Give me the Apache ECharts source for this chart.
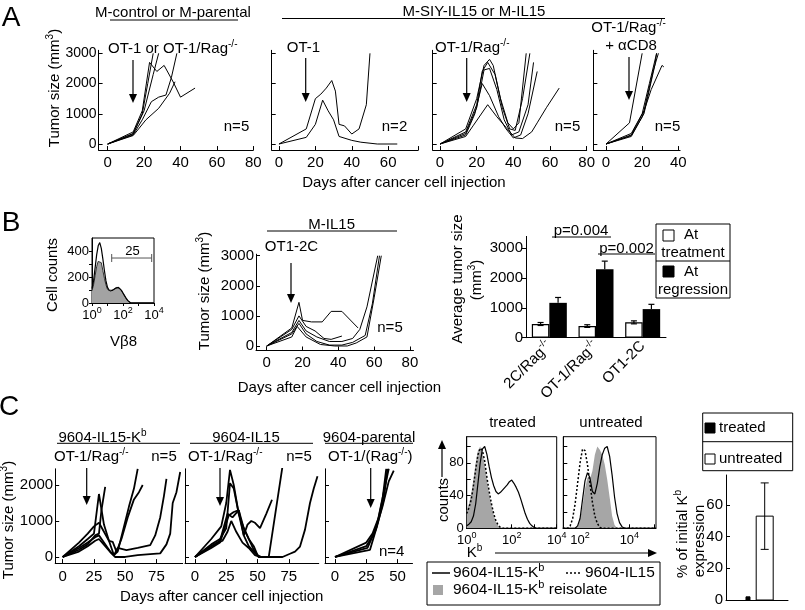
<!DOCTYPE html>
<html>
<head>
<meta charset="utf-8">
<script src="https://cdn.jsdelivr.net/npm/echarts@6/dist/echarts.min.js"></script>
<style>
html, body { margin: 0; padding: 0; background: #fff; }
#fig { width: 805px; height: 610px; }
</style>
</head>
<body>
<div id="fig"></div>
<script>
// ---- data ----
// A: tumor growth curves, [day, mm3]
var a1Lines = [
  [[0,0],[14,400],[19,1100],[23,2700],[27,2400],[31,2600],[36,2050],[40,1550],[48,1850]],
  [[0,0],[14,350],[19,1000],[22,2000],[25,3000]],
  [[0,0],[14,330],[20,1100],[25,2300],[28,3000]],
  [[0,0],[14,300],[19,800],[24,1400],[28,1550],[32,1620],[35,2200],[38,3000]],
  [[0,0],[14,280],[17,500],[21,800],[28,1180],[34,1680],[37,2060]]
];
var a2Lines = [
  [[0,0],[15,500],[20,1500],[23,1650],[26,1850],[29,2100],[31,1750],[33,650],[36,600],[40,330],[44,500],[48,1300],[50,3000]],
  [[0,0],[15,220],[20,650],[24,1450],[27,1100],[30,800],[33,250],[40,120],[45,60],[54,0],[65,0]]
];
var a3Lines = [
  [[0,0],[14,500],[20,1500],[24,2600],[27,2800],[29,2600],[33,1500],[37,700],[40,500],[43,700],[47,3000]],
  [[0,0],[14,400],[20,1300],[23,2400],[26,2700],[30,2300],[34,1200],[38,500],[41,450],[45,1500],[49,3000]],
  [[0,0],[14,350],[20,1200],[24,2450],[27,2500],[31,1800],[35,800],[39,300],[43,400],[48,1300],[51,2700]],
  [[0,0],[14,300],[19,1000],[23,2000],[27,1600],[32,900],[36,500],[40,200],[44,300],[48,1000],[53,2400]],
  [[0,0],[14,250],[18,600],[26,1300],[31,900],[36,550],[41,200],[45,180],[50,400],[53,700],[58,1200],[65,1850]]
];
var a4Lines = [
  [[0,0],[13,700],[20,3000]],
  [[0,0],[14,350],[20,1000],[24,2000],[28,3000]],
  [[0,0],[14,300],[21,1100],[26,2400],[29,3000]],
  [[0,0],[14,250],[20,900],[25,1800],[31,2600],[32,2550]],
  [[0,0],[14,280],[21,1000],[27,2600],[28,3000]]
];
// B: V-beta8 histogram (x in log10 units)
var bLog  = [0,0.1,0.2,0.3,0.4,0.5,0.6,0.7,0.8,0.9,1.0,1.1,1.2,1.3,1.4,1.5,1.6,1.7,1.8,1.9,2.0,2.1,2.2,2.3,2.4,2.5,2.6,4.0];
var bGray = [95,140,210,280,320,335,310,250,190,140,105,95,90,95,105,110,120,118,112,95,75,55,35,18,6,0,0,0];
var bOpen = [110,170,270,370,440,465,420,340,250,170,120,100,92,97,107,112,122,120,114,97,77,57,37,20,7,0,0,0];
var bGateX = [1.27, 3.85];
var bGateY = 346;
// B: M-IL15 growth curves
var bLines = [
  [[0,0],[14,600],[18,1450],[20,850],[25,800],[31,800],[36,1150],[42,1150],[51,600]],
  [[0,0],[14,550],[18,1000],[22,650],[27,500],[32,250],[36,220],[42,330]],
  [[0,0],[14,450],[18,850],[22,500],[28,300],[35,150],[42,150],[48,250],[52,550],[56,1300],[62,3000]],
  [[0,0],[14,400],[18,750],[22,400],[28,150],[35,30],[42,30],[48,120],[55,350],[59,1400],[63,3000]],
  [[0,0],[14,300],[17,650],[22,300],[30,50],[38,0],[45,0],[50,100],[56,300],[60,1600],[64,3000]]
];
// B: average tumor size bars
var bCats = ['2C/Rag-/-', 'OT-1/Rag-/-', 'OT1-2C'];
var bTreat = [460, 390, 515];
var bTreatErr = [50, 45, 50];
var bRegr = [1170, 2300, 960];
var bRegrErr = [180, 270, 160];
// C: growth curves
var c1Lines = [
  [[0,0],[13,300],[20,500],[25,650],[29,1750],[33,900],[37,450],[41,50],[44,150],[48,700],[53,1400],[57,1900],[60,2450]],
  [[0,0],[13,400],[20,650],[25,850],[29,950],[33,700],[37,450],[40,420],[43,150],[47,500],[52,1100],[57,1600],[61,1800],[64,2000]],
  [[0,0],[13,200],[20,350],[26,600],[29,650],[31,1300],[34,1950]],
  [[0,0],[13,250],[20,400],[26,550],[29,600],[33,400],[38,150],[41,50],[44,250],[51,190],[60,250],[70,330],[74,600],[78,1100],[81,1700],[83,2170]],
  [[0,0],[13,150],[20,300],[26,450],[29,500],[34,300],[39,100],[42,0],[50,0],[60,50],[70,80],[78,100],[83,350],[86,650],[88,1500],[91,1800],[94,2360]]
];
var c2Lines = [
  [[0,0],[13,500],[21,850],[25,1500],[28,2420],[31,2000],[35,1200],[39,600],[43,300],[47,150],[51,0],[59,0],[70,2520]],
  [[0,0],[13,350],[20,500],[25,800],[28,2050],[31,1900],[35,1200],[39,800],[43,500],[47,200],[51,0],[60,0],[67,0]],
  [[0,0],[13,300],[20,450],[26,1200],[30,1100],[35,1300],[39,600],[42,900],[45,1000],[48,950],[52,800],[57,1200],[61.6,1590]],
  [[0,0],[13,250],[20,400],[27,1150],[31,1250],[35,1300],[39,800],[43,500],[47,300],[50,50],[53,0]],
  [[0,0],[13,300],[22,450],[26,700],[29,1000],[33,700],[38,400],[43,250],[48,50],[52,0],[60,0],[70,0],[76,90],[80,150],[84,290],[88,760],[92,1500],[95,1900],[98,2240]]
];
var c3Lines = [
  [[0,0],[25,400],[30,650],[35,1100],[38,1600],[41,2450]],
  [[0,0],[25,300],[32,700],[38,1400],[43,2100],[47,2400]],
  [[0,0],[26,250],[33,800],[39,1800],[43,2450]],
  [[0,0],[28,200],[34,900],[39,1600],[42,2450]]
];
// C: Kb histograms (x in log10 units, counts in % of max)
var ctLog   = [0,0.1,0.2,0.3,0.4,0.5,0.6,0.7,0.8,0.9,1.0,1.1,1.2,1.3,1.4,1.5,1.6,1.7,1.8,1.9,2.0,2.1,2.2,2.3,2.4,2.5,2.6,2.7,2.8,2.9,3.0,3.1,3.2,4.0];
var ctGray  = [22,30,42,60,80,95,100,92,78,60,42,28,16,8,3,0,0,0,0,0,0,0,0,0,0,0,0,0,0,0,0,0,0,0];
var ctDot   = [18,25,35,52,72,90,98,95,82,62,45,30,18,9,4,1,0,0,0,0,0,0,0,0,0,0,0,0,0,0,0,0,0,0];
var ctSolid = [3,5,8,15,30,55,80,97,100,90,75,62,52,45,42,44,47,50,53,57,59,55,50,44,36,27,18,11,6,3,1,0,0,0];
var cuLog   = [1.3,1.4,1.5,1.6,1.7,1.8,1.9,2.0,2.1,2.2,2.3,2.4,2.5,2.6,2.7,2.8,2.9,3.0,3.1,3.2,3.3,3.4,3.5,3.6,3.7,3.8,3.9,5.08];
var cuGray  = [0,0,0,0,0,0,2,10,28,48,62,60,70,90,100,96,90,78,60,38,15,4,0,0,0,0,0,0];
var cuDot   = [0,0,0,3,12,30,55,80,97,95,78,55,32,15,6,1,0,0,0,0,0,0,0,0,0,0,0,0];
var cuSolid = [0,0,0,0,0,0,3,12,35,58,68,62,45,42,55,75,90,98,100,88,65,38,18,7,2,0,0,0];
// C: % of initial Kb expression
var cBarX = [1, 2];
var cBarVal = [2, 53];
var cBarErr = [0, 21];

// ---- helpers ----
var F = '"Liberation Sans", Arial, Helvetica, sans-serif';
function R(sz) {
  return {
    n: { fontSize: sz, fontFamily: F, color: '#000', fill: '#000', lineHeight: Math.round(sz * 1.35) },
    s: { fontSize: Math.round(sz * 0.68), fontFamily: F, color: '#000', fill: '#000', lineHeight: Math.round(sz * 0.65), verticalAlign: 'top' }
  };
}
function plain(v) { return String(v); }
function pow(v) { return '{n|10}{s|' + Math.round(v) + '}'; }
function powZ(v) { return v < 1.9 ? '{n|0}' : pow(v); }
function supRag(v) { return v.indexOf('-/-') > 0 ? '{n|' + v.replace('-/-', '') + '}{s|-/-}' : '{n|' + v + '}'; }

function ax(gi, min, max, ticks, labels, o) {
  o = o || {};
  var fs = o.fs || 15;
  return {
    type: 'value', gridIndex: gi, min: min, max: max,
    axisLine: { show: true, onZero: false, lineStyle: { color: '#000', width: 1 } },
    axisTick: { show: ticks.length > 0, inside: !o.out, length: o.tl || 4, customValues: ticks, lineStyle: { color: '#000', width: 1 } },
    axisLabel: { show: labels.length > 0, customValues: labels, color: '#000', fontFamily: F, fontSize: fs,
      margin: o.m == null ? 4 : o.m, formatter: o.fmt || plain, rich: o.fmt ? R(fs) : undefined },
    splitLine: { show: false }
  };
}
function lineS(gi, pts, w, extra) {
  return Object.assign({
    type: 'line', xAxisIndex: gi, yAxisIndex: gi, data: pts, symbol: 'none',
    lineStyle: { color: '#000', width: w }, silent: true
  }, extra || {});
}
function zip(xs, ys) { return xs.map(function (x, i) { return [x, ys[i]]; }); }

function T(x, y, text, sz, o) {
  o = o || {};
  return { type: 'text', x: x, y: y, rotation: o.rot ? Math.PI / 2 : 0, silent: true, z: 100,
    style: { text: text, fill: '#000', fontSize: sz, fontFamily: F, lineHeight: Math.round(sz * 1.35),
      align: o.align || 'center', verticalAlign: 'middle', rich: R(sz) } };
}
function L(x1, y1, x2, y2, w, dash) {
  return { type: 'line', silent: true, z: 100, shape: { x1: x1, y1: y1, x2: x2, y2: y2 },
    style: { stroke: '#000', lineWidth: w || 1, lineDash: dash || null } };
}
function ARR(x, y1, y2) {
  return [L(x, y1, x, y2 - 7, 1.2),
    { type: 'polygon', silent: true, z: 100, shape: { points: [[x - 4, y2 - 9], [x + 4, y2 - 9], [x, y2]] }, style: { fill: '#000' } }];
}
function ARRU(x, y1, y2) {
  return [L(x, y1, x, y2 + 7, 1.2),
    { type: 'polygon', silent: true, z: 100, shape: { points: [[x - 4, y2 + 9], [x + 4, y2 + 9], [x, y2]] }, style: { fill: '#000' } }];
}
function ARRR(x1, x2, y) {
  return [L(x1, y, x2 - 7, y, 1.2),
    { type: 'polygon', silent: true, z: 100, shape: { points: [[x2 - 9, y - 4], [x2 - 9, y + 4], [x2, y]] }, style: { fill: '#000' } }];
}
function box(x, y, w, h, fill) {
  return { type: 'rect', silent: true, z: 100, shape: { x: x, y: y, width: w, height: h },
    style: { fill: fill || 'none', stroke: '#000', lineWidth: 1 } };
}

// ---- layout ----
function gr(l, t, w, h, boxed) {
  var g = { left: l, top: t, width: w, height: h, containLabel: false, outerBoundsMode: 'none' };
  if (boxed) { g.show = true; g.borderColor = '#000'; g.borderWidth = 1; g.backgroundColor = 'transparent'; }
  return g;
}
var grids = [
  gr(98.6, 50.3, 154.7, 99.75),   // 0 A1
  gr(271.7, 50.3, 146.5, 99.75),  // 1 A2
  gr(432.7, 50.3, 154, 99.75),    // 2 A3
  gr(593.35, 50.3, 86.75, 99.75), // 3 A4
  gr(92, 238, 62, 65, true),      // 4 B histogram
  gr(256, 254.2, 157.5, 96.3),    // 5 B curves
  gr(526, 236.4, 140, 101.3),     // 6 B bars
  gr(55.2, 468.8, 127.5, 94.3),   // 7 C1
  gr(185, 468.8, 133.75, 94.3),   // 8 C2
  gr(325, 468.8, 87.5, 94.3),     // 9 C3
  gr(466.7, 436.7, 90, 91.6, true),   // 10 treated
  gr(563.3, 436.7, 92.7, 91.6, true), // 11 untreated
  gr(726, 475, 62, 125)           // 12 C bars
];

var yA = [0, 1000, 2000, 3000], yC = [0, 1000, 2000];
var xAxes = [
  ax(0, -5, 80, [0,20,40,60,80], [0,20,40,60,80], { m: 5 }),
  ax(1, -4, 76.5, [0,20,40,60,76.5], [0,20,40,60], { m: 5 }),
  ax(2, -4, 80, [0,20,40,60,80], [0,20,40,60,80], { m: 5 }),
  ax(3, -7, 41, [0,20,40], [0,20,40], { m: 5 }),
  ax(4, 0, 4, [0,1,2,3,4], [0,2,4], { fs: 13, m: 3, fmt: pow, out: true, tl: 3 }),
  ax(5, -6, 82, [0,20,40,60,80], [0,20,40,60,80], { m: 5 }),
  {
    type: 'category', gridIndex: 6, data: bCats,
    axisLine: { show: true, lineStyle: { color: '#000', width: 1 } },
    axisTick: { show: false },
    axisLabel: { rotate: 45, margin: 6, color: '#000', fontSize: 15, fontFamily: F, formatter: supRag, rich: R(15) },
    splitLine: { show: false }
  },
  ax(7, -6, 96, [0,25,50,75], [0,25,50,75], { m: 6 }),
  ax(8, -8, 99, [0,25,50,75], [0,25,50,75], { m: 6 }),
  ax(9, -8, 62, [0,25,50], [0,25,50], { m: 6 }),
  ax(10, 0, 4, [0,1,2,3,4], [0,2,4], { fs: 13, m: 3, fmt: pow }),
  ax(11, 1.32, 5.08, [2,3,4,5], [1.55,2,4], { fs: 13, m: 3, fmt: powZ }),
  ax(12, -0.317, 3.395, [], [])
];
var yAxes = [
  ax(0, -200, 3100, yA, yA, { fs: 14, m: 2 }),
  ax(1, -200, 3100, yA, []),
  ax(2, -200, 3100, yA, []),
  ax(3, -200, 3100, yA, []),
  ax(4, 0, 500, [0,100,200,300,400], [0,200,400], { fs: 13, m: 3, out: true, tl: 3 }),
  ax(5, -150, 3050, yA, yA, { m: 2 }),
  ax(6, 0, 3400, yA, yA, { m: 3, out: true }),
  ax(7, -170, 2450, yC, yC, { m: 2 }),
  ax(8, -170, 2450, yC, []),
  ax(9, -170, 2450, yC, []),
  ax(10, 0, 112, [0,20,40,60,80,100], [0,40,80], { fs: 13, m: 3 }),
  ax(11, 0, 112, [0,20,40,60,80,100], []),
  ax(12, 0, 79, [0,20,40,60], [0,20,40,60], { m: 3 })
];

// ---- series ----
var series = [];
a1Lines.forEach(function (l) { series.push(lineS(0, l, 1)); });
a2Lines.forEach(function (l) { series.push(lineS(1, l, 1)); });
a3Lines.forEach(function (l) { series.push(lineS(2, l, 1)); });
a4Lines.forEach(function (l) { series.push(lineS(3, l, 1)); });

series.push(lineS(4, zip(bLog, bGray), 1, { lineStyle: { color: '#333', width: 1 }, areaStyle: { color: '#a3a3a3', opacity: 1 } }));
series.push(lineS(4, zip(bLog, bOpen), 1.2));
series.push(lineS(4, [[bGateX[0], bGateY], [bGateX[1], bGateY]], 1, {
  symbol: 'rect', symbolSize: [1, 8], showSymbol: true, itemStyle: { color: '#555' }, lineStyle: { color: '#555', width: 1 }
}));

bLines.forEach(function (l) { series.push(lineS(5, l, 1)); });

series.push({ type: 'bar', xAxisIndex: 6, yAxisIndex: 6, data: bTreat, barWidth: 17.5, barGap: '0%', silent: true,
  itemStyle: { color: '#fff', borderColor: '#000', borderWidth: 1.2 } });
series.push({ type: 'bar', xAxisIndex: 6, yAxisIndex: 6, data: bRegr, barWidth: 17.5, barGap: '0%', silent: true,
  itemStyle: { color: '#000' } });
function errRender(dx, both) {
  return function (params, api) {
    var c = api.value(0), v = api.value(1), e = api.value(2);
    var lo = api.coord([c, both ? v - e : v]), hi = api.coord([c, v + e]);
    var x = lo[0] + dx, st = { stroke: '#000', lineWidth: 1.2 };
    var kids = [
      { type: 'line', shape: { x1: x, y1: lo[1], x2: x, y2: hi[1] }, style: st },
      { type: 'line', shape: { x1: x - 3, y1: hi[1], x2: x + 3, y2: hi[1] }, style: st }
    ];
    if (both) kids.push({ type: 'line', shape: { x1: x - 3, y1: lo[1], x2: x + 3, y2: lo[1] }, style: st });
    return { type: 'group', children: kids };
  };
}
series.push({ type: 'custom', xAxisIndex: 6, yAxisIndex: 6, z: 3, silent: true,
  data: bTreat.map(function (v, i) { return [i, v, bTreatErr[i]]; }), renderItem: errRender(-8.75, true) });
series.push({ type: 'custom', xAxisIndex: 6, yAxisIndex: 6, z: 3, silent: true,
  data: bRegr.map(function (v, i) { return [i, v, bRegrErr[i]]; }), renderItem: errRender(8.75, false) });

c1Lines.forEach(function (l) { series.push(lineS(7, l, 1.8)); });
c2Lines.forEach(function (l) { series.push(lineS(8, l, 1.8)); });
c3Lines.forEach(function (l) { series.push(lineS(9, l, 1.8)); });

var grayFill = { lineStyle: { width: 0, color: '#a6a6a6' }, areaStyle: { color: '#a6a6a6', opacity: 1 } };
var dotStyle = { lineStyle: { color: '#000', width: 1.5, type: [2, 2] } };
series.push(lineS(10, zip(ctLog, ctGray), 0, grayFill));
series.push(lineS(10, zip(ctLog, ctDot), 1.5, dotStyle));
series.push(lineS(10, zip(ctLog, ctSolid), 1.2));
series.push(lineS(11, zip(cuLog, cuGray), 0, grayFill));
series.push(lineS(11, zip(cuLog, cuDot), 1.5, dotStyle));
series.push(lineS(11, zip(cuLog, cuSolid), 1.2));

series.push({ type: 'custom', xAxisIndex: 12, yAxisIndex: 12, silent: true,
  data: cBarX.map(function (x, i) { return [x, cBarVal[i], cBarErr[i]]; }),
  renderItem: function (params, api) {
    var x = api.value(0), v = api.value(1), e = api.value(2);
    var base = api.coord([x, 0]), top = api.coord([x, v]);
    var black = params.dataIndex === 0, w = black ? 4 : 17, st = { stroke: '#000', lineWidth: 1 };
    var kids = [{ type: 'rect', shape: { x: base[0] - w / 2, y: top[1], width: w, height: base[1] - top[1] },
      style: { fill: black ? '#000' : '#fff', stroke: '#000', lineWidth: 1 } }];
    if (e > 0) {
      var hi = api.coord([x, v + e]), lo = api.coord([x, v - e]);
      kids.push({ type: 'line', shape: { x1: base[0], y1: hi[1], x2: base[0], y2: lo[1] }, style: st });
      kids.push({ type: 'line', shape: { x1: base[0] - 4, y1: hi[1], x2: base[0] + 4, y2: hi[1] }, style: st });
      kids.push({ type: 'line', shape: { x1: base[0] - 4, y1: lo[1], x2: base[0] + 4, y2: lo[1] }, style: st });
    }
    return { type: 'group', children: kids };
  }
});

// ---- annotations ----
var G = [];
function add() {
  for (var i = 0; i < arguments.length; i++) {
    var a = arguments[i];
    if (Array.isArray(a)) G.push.apply(G, a); else G.push(a);
  }
}
add(T(11, 18, 'A', 28), T(11, 223, 'B', 28), T(9, 407, 'C', 28));

// A
add(T(173, 13, 'M-control or M-parental', 15), L(110, 20, 238, 20));
add(T(474, 12, 'M-SIY-IL15 or M-IL15', 15), L(282, 18.5, 665, 18.5));
add(T(108, 49, 'OT-1 or OT-1/Rag{s|-/-}', 15, { align: 'left' }), ARR(133, 60, 103), T(236.5, 127, 'n=5', 15));
add(T(303.5, 48, 'OT-1', 15), ARR(305.7, 58, 102), T(394.5, 127, 'n=2', 15));
add(T(435, 48, 'OT-1/Rag{s|-/-}', 15, { align: 'left' }), ARR(466.7, 58, 102), T(567.5, 127, 'n=5', 15));
add(T(628.5, 28, 'OT-1/Rag{s|-/-}', 15), T(631, 46, '+ αCD8', 15), ARR(629, 57, 100), T(667.5, 127, 'n=5', 15));
add(T(55, 88, 'Tumor size (mm{s|3})', 15, { rot: true }), T(404, 182.5, 'Days after cancer cell injection', 15));

// B
add(T(53, 275, 'Cell counts', 15, { rot: true }), T(123.5, 342, 'Vβ8', 15), T(132.5, 251, '25', 13));
add(T(331.7, 225, 'M-IL15', 15), L(267, 231, 397, 231), T(291.5, 247, 'OT1-2C', 15), ARR(291, 263, 303), T(390, 328, 'n=5', 15));
add(T(205, 291, 'Tumor size (mm{s|3})', 15, { rot: true }), T(339.5, 388, 'Days after cancer cell injection', 15));
add(T(458, 279, 'Average tumor size', 15, { rot: true }), T(477, 280, '(mm{s|3})', 15, { rot: true }));
add(T(581, 231, 'p=0.004', 15), L(552, 237, 611, 237), T(626.5, 248.5, 'p=0.002', 15), L(598, 254, 655, 254));
add(box(656, 224, 74, 74, '#fff'), L(656, 261, 730, 261),
  box(663, 230, 11, 11, '#fff'), T(684, 235, 'At', 15, { align: 'left' }), T(693, 253, 'treatment', 15),
  box(663, 266, 11, 11, '#000'), T(684, 271.7, 'At', 15, { align: 'left' }), T(693, 290, 'regression', 15));

// C
add(T(102.5, 438, '9604-IL15-K{s|b}', 15), L(57, 443.3, 180, 443.3));
add(T(246, 438, '9604-IL15', 15), L(190, 443.3, 313, 443.3));
add(T(369, 438, '9604-parental', 15), L(325, 443.3, 413, 443.3));
add(T(54, 457, 'OT-1/Rag{s|-/-}', 15, { align: 'left' }), T(164, 457, 'n=5', 15), ARR(86.7, 468, 505));
add(T(188, 457, 'OT-1/Rag{s|-/-}', 15, { align: 'left' }), T(299, 457, 'n=5', 15), ARR(220, 468, 506));
add(T(328, 457, 'OT-1/(Rag{s|-/-})', 15, { align: 'left' }), ARR(370.7, 468, 508), T(391.7, 551.7, 'n=4', 15));
add(T(9, 520, 'Tumor size (mm{s|3})', 15, { rot: true }), T(221.7, 597, 'Days after cancer cell injection', 15));
add(T(512.5, 423, 'treated', 15), T(611, 423, 'untreated', 15));
add(T(444, 500, 'counts', 15, { rot: true }), ARRU(442, 477, 440));
add(T(474.5, 553, 'K{s|b}', 15), ARRR(495, 657, 553));
add(box(427, 562, 233, 43), L(432, 573, 450, 573, 1.5), T(453, 573, '9604-IL15-K{s|b}', 15.5, { align: 'left' }),
  L(566, 573, 581, 573, 1.5, [2, 2]), T(585, 573, '9604-IL15', 15.5, { align: 'left' }),
  { type: 'rect', silent: true, z: 100, shape: { x: 433, y: 585, width: 10, height: 10 }, style: { fill: '#a6a6a6' } },
  T(453, 590, '9604-IL15-K{s|b} reisolate', 15.5, { align: 'left' }));
add(box(702.7, 413, 90, 57.7), L(702.7, 441.7, 792.7, 441.7),
  box(705, 423, 10, 10, '#000'), T(719, 428, 'treated', 15, { align: 'left' }),
  box(705, 454, 10, 10, '#fff'), T(719, 459, 'untreated', 15, { align: 'left' }));
add(T(683, 534, '% of initial K{s|b}', 15, { rot: true }), T(700, 541, 'expression', 15, { rot: true }));

var chart = echarts.init(document.getElementById('fig'));
chart.setOption({
  animation: false,
  backgroundColor: '#fff',
  textStyle: { fontFamily: F },
  grid: grids,
  xAxis: xAxes,
  yAxis: yAxes,
  series: series,
  graphic: { elements: G }
});
</script>
</body>
</html>
